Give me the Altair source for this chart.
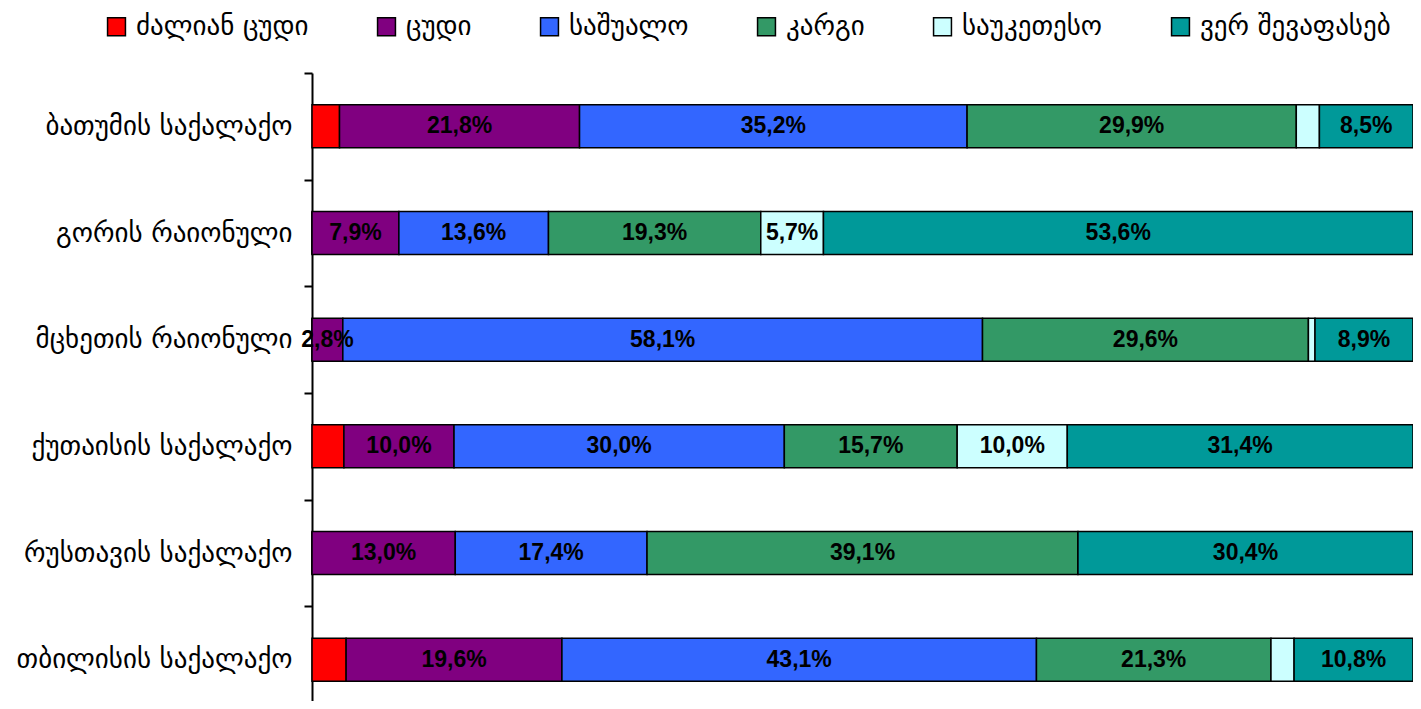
import altair as alt
import pandas as pd

categories = ["ბათუმის საქალაქო", "გორის რაიონული", "მცხეთის რაიონული",
              "ქუთაისის საქალაქო", "რუსთავის საქალაქო", "თბილისის საქალაქო"]
series = ["ძალიან ცუდი", "ცუდი", "საშუალო", "კარგი", "საუკეთესო", "ვერ შევაფასებ"]
colors = ["#FF0000", "#800080", "#3366FF", "#339966", "#CCFFFF", "#009999"]

very_bad = [2.5, 0.0, 0.0, 2.9, 0.0, 3.1]
bad = [21.8, 7.9, 2.8, 10.0, 13.0, 19.6]
average = [35.2, 13.6, 58.1, 30.0, 17.4, 43.1]
good = [29.9, 19.3, 29.6, 15.7, 39.1, 21.3]
best = [2.1, 5.7, 0.6, 10.0, 0.0, 2.1]
cannot = [8.5, 53.6, 8.9, 31.4, 30.4, 10.8]

values = [very_bad, bad, average, good, best, cannot]
rows = []
for si, (s, vals) in enumerate(zip(series, values)):
    for c, v in zip(categories, vals):
        show = (si != 0) and v >= 2.7
        rows.append({
            "category": c, "series": s, "order": si, "value": v,
            "label": (f"{v:.1f}".replace(".", ",") + "%") if show else "",
        })
df = pd.DataFrame(rows)

FONT = "DejaVu Sans"

y_enc = alt.Y("category:N", sort=categories,
              scale=alt.Scale(paddingInner=0, paddingOuter=0),
              axis=alt.Axis(title=None, labelFont=FONT, labelFontSize=27,
                            labelColor="black", labelPadding=12,
                            domainColor="black", domainWidth=2,
                            tickColor="black", tickWidth=2, tickSize=8,
                            tickBand="extent", labelLimit=400))

bars = alt.Chart(df).mark_bar(stroke="black", strokeWidth=1.5, size=43).encode(
    x=alt.X("value:Q", stack="normalize", axis=None,
            scale=alt.Scale(domain=[0, 1], nice=False)),
    y=y_enc,
    color=alt.Color("series:N", sort=series,
                    scale=alt.Scale(domain=series, range=colors),
                    legend=alt.Legend(title=None, orient="none", direction="horizontal",
                                      columns=6, legendX=-209, legendY=-60,
                                      symbolType="square", symbolSize=320,
                                      symbolStrokeColor="black", symbolStrokeWidth=1.5,
                                      labelFont=FONT, labelFontSize=27, labelLimit=0,
                                      labelColor="black", columnPadding=64,
                                      labelOffset=6)),
    order=alt.Order("order:Q"),
)

texts = alt.Chart(df).transform_stack(
    stack="value", groupby=["category"], as_=["x0", "x1"],
    sort=[alt.SortField("order", "ascending")], offset="normalize",
).transform_calculate(
    mid="(datum.x0 + datum.x1) / 2"
).mark_text(font="Liberation Sans", fontSize=23, fontWeight="bold", color="black").encode(
    x=alt.X("mid:Q", scale=alt.Scale(domain=[0, 1], nice=False), axis=None),
    y=alt.Y("category:N", sort=categories),
    text="label:N",
)

chart = alt.layer(bars, texts).properties(
    width=1101, height=640,
    autosize=alt.AutoSizeParams(type="none"),
    padding={"left": 304, "top": 65, "right": 0, "bottom": -12},
).configure_view(stroke=None)

chart.save("out.html", embed_options={"renderer": "svg", "actions": False})
